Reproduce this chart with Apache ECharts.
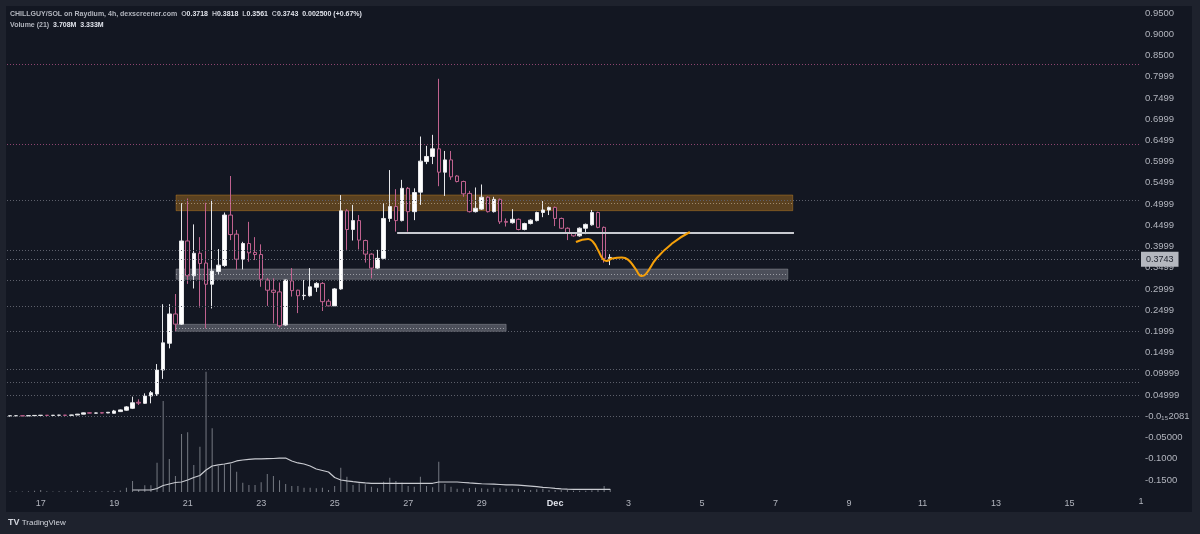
<!DOCTYPE html>
<html>
<head>
<meta charset="utf-8">
<style>
  html, body { margin: 0; padding: 0; background: #1e222d; }
  #chart { width: 1200px; height: 534px; }
</style>
<script src="https://cdn.jsdelivr.net/npm/echarts@6/dist/echarts.min.js"></script>
</head>
<body>
<div id="chart"></div>
<script>
// 4h candles from Nov 16 04:00: [open, close, low, high]
const candles = [
  [0.0005, 0.0010, 0.0000, 0.0015], [0.0010, 0.0012, 0.0005, 0.0015], [0.0012, 0.0008, 0.0005, 0.0014],
  [0.0008, 0.0014, 0.0006, 0.0016], [0.0014, 0.0020, 0.0012, 0.0022], [0.0020, 0.0024, 0.0016, 0.0028],
  [0.0024, 0.0020, 0.0016, 0.0028], [0.0020, 0.0024, 0.0018, 0.0030], [0.0024, 0.0026, 0.0020, 0.0034],
  [0.0026, 0.0022, 0.0018, 0.0032], [0.0022, 0.0030, 0.0020, 0.0034], [0.0030, 0.0050, 0.0028, 0.0054],
  [0.0050, 0.0080, 0.0046, 0.0086], [0.0082, 0.0074, 0.0068, 0.0090], [0.0074, 0.0078, 0.0070, 0.0086],
  [0.0084, 0.0076, 0.0070, 0.0092], [0.0078, 0.0094, 0.0074, 0.0100], [0.0070, 0.0125, 0.0064, 0.0150],
  [0.0110, 0.0150, 0.0100, 0.0160], [0.0143, 0.0221, 0.0130, 0.0240], [0.0188, 0.0318, 0.0170, 0.0462],
  [0.0330, 0.0310, 0.0266, 0.0400], [0.0305, 0.0478, 0.0290, 0.0540], [0.0478, 0.0555, 0.0305, 0.0595],
  [0.0525, 0.1090, 0.0480, 0.1230], [0.1090, 0.1730, 0.0880, 0.2640], [0.1720, 0.2410, 0.1600, 0.2640],
  [0.2410, 0.2170, 0.1990, 0.2880], [0.2170, 0.4130, 0.2150, 0.5020], [0.4130, 0.3310, 0.3120, 0.5130],
  [0.3310, 0.3840, 0.3010, 0.4520], [0.3840, 0.3600, 0.2560, 0.4220], [0.3610, 0.3110, 0.2070, 0.5030],
  [0.3110, 0.3420, 0.2540, 0.5100], [0.3410, 0.3560, 0.3350, 0.3940], [0.3550, 0.4740, 0.3520, 0.4800],
  [0.4740, 0.4280, 0.4150, 0.5660], [0.4290, 0.3700, 0.3460, 0.4390], [0.3700, 0.4070, 0.3460, 0.4110],
  [0.4070, 0.3850, 0.3640, 0.4580], [0.3860, 0.3810, 0.3680, 0.4220], [0.3810, 0.3230, 0.3050, 0.4050],
  [0.3210, 0.2970, 0.2600, 0.3260], [0.2970, 0.2920, 0.2190, 0.3250], [0.2930, 0.2130, 0.2090, 0.3150],
  [0.2150, 0.3210, 0.2130, 0.3220], [0.3190, 0.2960, 0.2820, 0.3490], [0.2970, 0.2840, 0.2430, 0.2980],
  [0.2840, 0.2850, 0.2740, 0.3210], [0.2840, 0.3050, 0.2820, 0.3490], [0.3040, 0.3130, 0.2930, 0.3160],
  [0.3130, 0.2700, 0.2480, 0.3160], [0.2710, 0.2600, 0.2580, 0.2760], [0.2600, 0.3000, 0.2580, 0.3020],
  [0.3000, 0.4840, 0.2980, 0.5210], [0.4840, 0.4400, 0.3920, 0.4880], [0.4400, 0.4610, 0.4140, 0.4980],
  [0.4610, 0.4150, 0.3930, 0.4740], [0.4140, 0.3820, 0.3620, 0.4160], [0.3820, 0.3490, 0.3250, 0.3840],
  [0.3490, 0.3720, 0.3470, 0.3920], [0.3720, 0.4660, 0.3700, 0.5020], [0.4660, 0.4940, 0.4580, 0.5800],
  [0.4940, 0.4610, 0.4350, 0.5350], [0.4610, 0.5370, 0.4590, 0.5570], [0.5370, 0.4820, 0.4350, 0.5400],
  [0.4820, 0.5270, 0.4620, 0.5370], [0.5280, 0.6010, 0.4980, 0.6590], [0.6000, 0.6120, 0.5940, 0.6370],
  [0.6120, 0.6300, 0.5940, 0.6630], [0.6300, 0.5750, 0.5420, 0.7950], [0.5750, 0.6040, 0.5190, 0.6250],
  [0.6040, 0.5640, 0.5570, 0.6250], [0.5660, 0.5530, 0.5510, 0.5680], [0.5530, 0.5240, 0.5170, 0.5550],
  [0.5250, 0.4820, 0.4800, 0.5310], [0.4820, 0.4900, 0.4800, 0.5390], [0.4880, 0.5160, 0.4860, 0.5460],
  [0.5160, 0.4820, 0.4800, 0.5180], [0.4820, 0.5110, 0.4800, 0.5170], [0.5110, 0.4580, 0.4530, 0.5130],
  [0.4590, 0.4570, 0.4470, 0.4660], [0.4560, 0.4640, 0.4540, 0.4880], [0.4640, 0.4400, 0.4380, 0.4660],
  [0.4400, 0.4540, 0.4380, 0.4560], [0.4540, 0.4620, 0.4520, 0.4640], [0.4610, 0.4800, 0.4590, 0.4820],
  [0.4800, 0.4860, 0.4690, 0.5070], [0.4860, 0.4920, 0.4740, 0.4940], [0.4920, 0.4660, 0.4480, 0.4940],
  [0.4660, 0.4430, 0.4410, 0.4680], [0.4430, 0.4310, 0.4150, 0.4450], [0.4320, 0.4250, 0.4230, 0.4340],
  [0.4250, 0.4430, 0.4230, 0.4450], [0.4430, 0.4520, 0.4290, 0.4540], [0.4510, 0.4800, 0.4490, 0.4860],
  [0.4800, 0.4450, 0.4430, 0.4820], [0.4450, 0.3720, 0.3620, 0.4470], [0.3718, 0.3743, 0.3561, 0.3818],
];

// volume (M)
const volumes = [
  0.8, 0.6, 0.7, 0.9, 1.6, 2.5, 0.8, 0.7, 0.9, 0.8, 1.0, 1.6, 1.0, 0.9, 1.1, 0.9, 1.2, 1.3, 1.8,
  5.4, 13.8, 2.5, 8.4, 8.4, 36.6, 113.8, 41.3, 20.0, 72.5, 74.6, 33.8, 56.6, 150.4, 79.6, 32.5,
  34.6, 34.6, 25.4, 11.6, 8.8, 8.8, 12.1, 22.5, 20.0, 14.6, 10.0, 7.5, 7.5, 5.4, 5.4, 4.6, 5.4,
  2.5, 7.5, 30.4, 19.1, 8.8, 10.9, 9.6, 6.6, 4.6, 12.9, 17.9, 13.8, 11.6, 7.5, 6.6, 19.1, 7.5,
  5.9, 37.9, 10.0, 6.6, 4.1, 4.1, 5.0, 5.4, 4.6, 4.1, 5.4, 4.6, 4.1, 3.4, 4.1, 2.5, 2.5, 3.4,
  4.1, 2.5, 2.5, 2.5, 2.5, 1.6, 1.6, 1.6, 2.1, 2.5, 7.5, 3.7,
];

// volume MA (21)
const volumeMA = [
  '-', '-', '-', '-', '-', '-', '-', '-', '-', '-', '-', '-', '-', '-', '-', '-', '-', '-', '-', '-',
  2.5, 2.5, 2.5, 2.5, 4.4, 8.1, 10.0, 11.9, 12.5, 15.0, 18.1, 20.6, 27.5, 32.5, 33.8, 35.0, 36.3,
  38.8, 40.0, 40.9, 41.3, 41.3, 41.6, 41.9, 42.3, 42.5, 38.8, 36.3, 35.0, 32.5, 28.8, 26.9, 25.0,
  18.1, 15.0, 13.8, 12.9, 12.1, 11.3, 10.9, 10.9, 10.9, 10.9, 10.9, 10.9, 10.9, 10.9, 10.9, 10.9,
  10.9, 12.5, 12.5, 12.5, 12.5, 11.9, 11.3, 10.9, 10.3, 10.0, 9.8, 9.4, 9.0, 8.8, 8.5, 7.9, 7.3,
  6.6, 5.9, 5.3, 4.6, 4.0, 3.5, 3.4, 3.4, 3.4, 3.4, 3.4, 3.4, 3.4,
];

const priceTicks = [0.95, 0.9, 0.85, 0.8, 0.75, 0.7, 0.65, 0.6, 0.55, 0.5, 0.45, 0.4, 0.35, 0.3,
  0.25, 0.2, 0.15, 0.1, 0.05, 0, -0.05, -0.1, -0.15];
const priceTickLabels = ['0.9500', '0.9000', '0.8500', '0.7999', '0.7499', '0.6999', '0.6499', '0.5999',
  '0.5499', '0.4999', '0.4499', '0.3999', '0.3499', '0.2999', '0.2499', '0.1999', '0.1499', '0.09999',
  '0.04999', '-0.0\u2081\u20852081', '-0.05000', '-0.1000', '-0.1500'];

// drawn levels
const greyLevels = [0.5111, 0.3917, 0.317, 0.2558, 0.1969, 0.109, 0.0777, 0.0518, 0.0008];
const pinkLevels = [0.8299, 0.639];
const lastPrice = 0.3743;

// rectangles: [fromBar, toBar, top, bottom]
const orangeZone = [27.1, 127.8, 0.5213, 0.4843];
const greyZones = [
  [27.1, 127.0, 0.3469, 0.3227],
  [27.1, 81.0, 0.2167, 0.2002],
];
const supportLine = [63.2, 128.0, 0.4325];

// hand-drawn projection path [bar, price]
const projection = [
  [92.4, 0.4105], [94.4, 0.4176], [95.2, 0.4105], [96.0, 0.3917], [96.8, 0.3700], [97.4, 0.3660],
  [98.3, 0.3715], [99.9, 0.3740], [100.9, 0.3690], [102.1, 0.3480], [103.1, 0.3304], [103.8, 0.3350],
  [105.6, 0.3729], [108.2, 0.4080], [111.0, 0.4341],
];

const barCount = 185;
const startTime = Date.UTC(2024, 10, 16, 4);
const categories = [];
for (let k = 0; k < barCount; k++) {
  const d = new Date(startTime + k * 4 * 3600 * 1000);
  categories.push((d.getUTCMonth() + 1) + '/' + d.getUTCDate() + ' ' + d.getUTCHours());
}

function dayLabel(v) {
  const parts = v.split(' ');
  const md = parts[0].split('/').map(Number);
  if (parts[1] !== '0' || md[1] % 2 === 0) return '';
  if (md[1] === 1) return '{b|Dec}';
  return String(md[1]);
}

const levelLine = (v, color) => ({
  yAxis: v,
  lineStyle: { color: color, type: [1, 2], width: 1 },
  label: { show: false },
});

const midLine = (z, color) => [
  { coord: [z[0], (z[2] + z[3]) / 2], lineStyle: { color: color, type: [1, 2], width: 1 } },
  { coord: [z[1], (z[2] + z[3]) / 2] },
];

const zoneArea = (z, fill, border) => [
  { coord: [z[0], z[2]], itemStyle: { color: fill, borderColor: border, borderWidth: 1 } },
  { coord: [z[1], z[3]] },
];

const option = {
  backgroundColor: '#1e222d',
  animation: false,
  textStyle: { fontFamily: 'Liberation Sans, Arial, sans-serif' },
  title: {
    left: 10,
    top: 9,
    padding: 0,
    text: '{a|CHILLGUY/SOL on Raydium, 4h, dexscreener.com}  {l|O}{v|0.3718}  {l|H}{v|0.3818}  {l|L}{v|0.3561}  {l|C}{v|0.3743}  {v|0.002500 (+0.67%)}\n{a|Volume (21)}  {v|3.708M}  {v|3.333M}',
    textStyle: {
      fontSize: 7,
      lineHeight: 11,
      rich: {
        a: { color: '#b2b5be', fontSize: 7, lineHeight: 11 },
        l: { color: '#b2b5be', fontSize: 7, lineHeight: 11 },
        v: { color: '#e0e3eb', fontSize: 7, lineHeight: 11 },
      },
    },
  },
  graphic: [
    { type: 'rect', z: -10, shape: { x: 6, y: 6, width: 1186, height: 506 }, style: { fill: '#131722' } },
    { type: 'text', x: 1141, y: 502, style: { text: '1', fill: '#b2b5be', font: '9px Liberation Sans', align: 'center', verticalAlign: 'middle' } },
    {
      type: 'text', x: 8, y: 523,
      style: {
        text: '{t|TV} TradingView',
        fill: '#d1d4dc',
        font: '8px Liberation Sans',
        verticalAlign: 'middle',
        rich: { t: { fontWeight: 'bold', fontSize: 9, fill: '#d1d4dc' } },
      },
    },
  ],
  grid: { left: 7, right: 60, top: 6, bottom: 42 },
  xAxis: [{
    type: 'category',
    data: categories,
    boundaryGap: true,
    axisLine: { show: false },
    axisTick: { show: false },
    splitLine: { show: false },
    axisLabel: {
      interval: (i, v) => dayLabel(v) !== '',
      formatter: (v) => dayLabel(v),
      color: '#b2b5be',
      fontSize: 9,
      margin: 7,
      hideOverlap: false,
      rich: { b: { color: '#e0e3eb', fontWeight: 'bold', fontSize: 9 } },
    },
  }, {
    type: 'value',
    min: -0.5,
    max: barCount - 0.5,
    show: false,
  }],
  yAxis: [{
    type: 'value',
    position: 'right',
    min: -0.1784,
    max: 0.9665,
    splitLine: { show: false },
    axisLine: { show: false },
    axisTick: { show: false },
    axisLabel: {
      customValues: priceTicks,
      formatter: (v) => {
        const i = priceTicks.findIndex((t) => Math.abs(t - v) < 1e-6);
        return i >= 0 ? priceTickLabels[i] : '';
      },
      color: '#b2b5be',
      fontSize: 9.5,
      margin: 5,
    },
  }, {
    type: 'value',
    min: 0,
    max: 607.5,
    show: false,
  }],
  series: [
    {
      name: 'Volume',
      type: 'bar',
      xAxisIndex: 0,
      yAxisIndex: 1,
      barWidth: 1,
      itemStyle: { color: 'rgba(150,153,162,0.75)' },
      data: volumes,
      z: 1,
    },
    {
      name: 'Volume MA',
      type: 'line',
      xAxisIndex: 0,
      yAxisIndex: 1,
      symbol: 'none',
      lineStyle: { color: '#c8cad0', width: 1.2 },
      data: volumeMA,
      z: 1,
    },
    {
      name: 'CHILLGUY/SOL',
      type: 'candlestick',
      xAxisIndex: 0,
      yAxisIndex: 0,
      barWidth: 4,
      itemStyle: {
        color: '#ffffff',
        color0: '#131722',
        borderColor: '#e6e7ea',
        borderColor0: '#c0628f',
        borderWidth: 1,
      },
      data: candles,
      markLine: {
        symbol: ['none', 'none'],
        silent: true,
        data: greyLevels.map((v) => levelLine(v, '#5d606b'))
          .concat(pinkLevels.map((v) => levelLine(v, '#8e4470')))
          .concat([{
            yAxis: lastPrice,
            lineStyle: { color: '#6a6d78', type: [1, 2], width: 1 },
            label: {
              show: true,
              position: 'end',
              distance: 1,
              formatter: '0.3743',
              backgroundColor: '#b4b7bf',
              color: '#1e222d',
              fontSize: 9,
              padding: [3, 5],
            },
          }]),
      },
    },
    {
      name: 'Drawings',
      type: 'line',
      xAxisIndex: 1,
      yAxisIndex: 0,
      symbol: 'none',
      smooth: 0.5,
      lineStyle: { color: '#f5a00a', width: 2 },
      data: projection,
      z: 6,
      markArea: {
        silent: true,
        data: [zoneArea(orangeZone, 'rgba(230,148,30,0.34)', 'rgba(255,170,40,0.3)')]
          .concat(greyZones.map((z) => zoneArea(z, 'rgba(178,181,190,0.36)', 'rgba(200,203,210,0.3)'))),
      },
      markLine: {
        symbol: ['none', 'none'],
        silent: true,
        label: { show: false },
        data: [
          midLine(orangeZone, 'rgba(210,190,160,0.6)'),
          midLine(greyZones[0], 'rgba(210,212,218,0.6)'),
          midLine(greyZones[1], 'rgba(210,212,218,0.6)'),
          [
            { coord: [supportLine[0], supportLine[2]], lineStyle: { color: '#c8cad0', type: 'solid', width: 2 } },
            { coord: [supportLine[1], supportLine[2]] },
          ],
        ],
      },
    },
  ],
};

const myChart = echarts.init(document.getElementById('chart'));
myChart.setOption(option);
</script>
</body>
</html>
